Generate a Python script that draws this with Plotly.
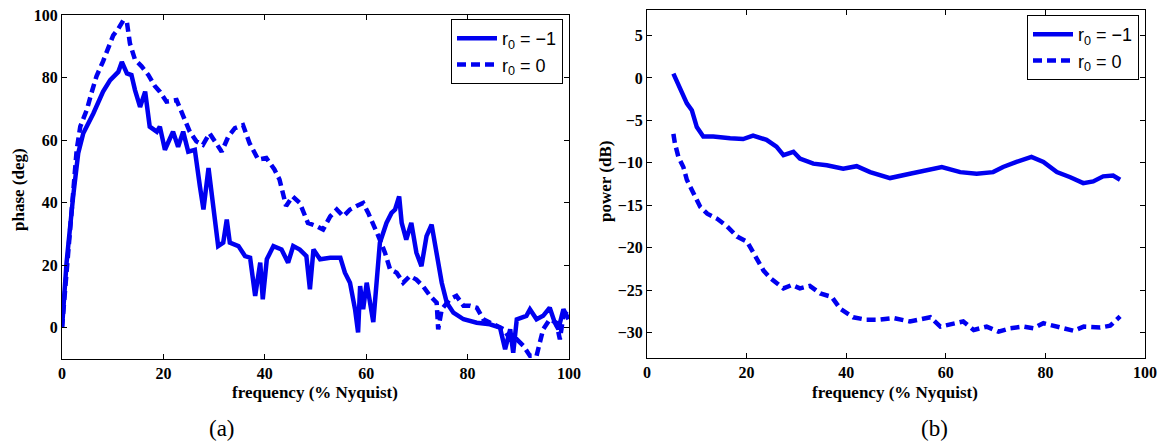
import plotly.graph_objects as go

# ---------------- data ----------------
# (a) phase vs frequency
phase_r1_x = [0, 0.9, 2.2, 3.2, 4.2, 6.2, 8.1, 9.5, 11.1, 11.8, 12.8, 13.7, 14.4, 15.4, 16.4,
              17.3, 18.7, 19.3, 20.3, 21.9, 22.9, 23.9, 24.9, 26.2, 27.2, 27.9, 28.9, 29.8,
              30.8, 31.8, 32.5, 33.1, 34.8, 36.1, 37.1, 38.1, 39.1, 39.6, 40.4, 41.7, 43.3,
              44.6, 45.6, 46.9, 48.2, 48.9, 49.6, 50.9, 52.9, 54.9, 55.8, 56.8, 57.8, 58.4,
              58.8, 59.4, 60.1, 61.4, 62.1, 62.7, 64.0, 65.0, 65.7, 66.5, 67.0, 67.9, 68.9,
              69.9, 70.9, 71.9, 72.9, 73.9, 74.9, 75.9, 77.2, 79.2, 81.8, 84.4, 86.4, 87.4,
              88.4, 89.0, 89.7, 91.6, 92.3, 93.6, 94.9, 96.2, 97.2, 97.9, 98.9, 99.9]
phase_r1_y = [0, 20.8, 42, 55.8, 62.2, 68.6, 75.5, 79.2, 81.8, 85, 81.3, 80.8, 76, 70.6, 75.5,
              64.3, 62.7, 64.3, 56.9, 62.7, 57.9, 62.7, 56.3, 56.9, 45.2, 37.8, 51.1, 37.8,
              26.1, 27.2, 34.6, 27.2, 26.1, 22.9, 22.4, 10.2, 20.8, 9.1, 21.9, 26.1, 25,
              20.8, 26.1, 25, 22.9, 12.3, 25, 21.9, 22.4, 22.4, 17.6, 14.4, 5.9, -1.5,
              13.3, 5.9, 14.4, 1.8, 14.4, 27.2, 33.5, 36.7, 37.8, 42, 33.5, 28.2, 33.5,
              24, 19.7, 29.3, 33, 23, 14.4, 8, 4.8, 2.7, 1.6, 1.1, 0, -6.9,
              -0.5, -8, 2.7, 3.8, 5.9, 2.7, 3.8, 6.4, 1.6, -0.5, 5.9, 2.7]

phase_r0_x = [0, 0.9, 1.9, 2.9, 3.6, 4.9, 5.8, 6.8, 8.1, 9.1, 10.1, 11.1, 12.1, 12.8, 13.4,
              14.4, 15.7, 17.0, 18.3, 19.3, 20.6, 22.6, 23.9, 25.2, 26.5, 27.8, 29.1, 30.5,
              31.5, 32.8, 34.1, 35.7, 37.0, 38.7, 40.3, 41.9, 42.9, 44.2, 45.5, 46.9, 48.5,
              50.2, 51.5, 52.9, 54.2, 55.5, 56.8, 58.1, 59.4, 60.4, 61.4, 62.4, 63.7, 64.7,
              66.0, 67.3, 68.6, 69.9, 71.2, 72.6, 73.9, 74.2, 74.9, 76.5, 77.8, 79.2, 80.5,
              81.8, 83.1, 85.1, 87.1, 88.4, 89.7, 91.0, 92.3, 93.6, 94.9, 96.2, 97.5, 98.2,
              98.9, 99.9]
phase_r0_y = [0, 16.5, 37.8, 56.9, 64.3, 69.7, 75, 80.4, 85.2, 89.8, 93.5, 95.6, 98.3, 97.7, 90.9,
              85.7, 83.6, 80.9, 77.3, 75.5, 72.3, 72.8, 67.5, 62.7, 59.6, 58.5, 62.2, 58.5,
              56.3, 61.1, 63.8, 64.8, 59.0, 53.8, 54.3, 50.6, 47.4, 38.9, 42, 39.9, 33.5,
              32.5, 31.4, 35.6, 37.8, 35.6, 37.8, 38.9, 39.9, 36.7, 32.5, 29.3, 24, 18.7,
              17.6, 14.4, 16.5, 15.4, 13.3, 10.2, 8.0, -0.5, 5.9, 9.1, 10.2, 7.0, 7.0,
              6.4, 2.7, 1.1, -0.5, -3.7, -3.7, -5.8, -9, -9, -0.5, 2.7, 1.6, -3.7,
              3.8, 5.9]

# (b) power vs frequency
power_r1_x = [5.3, 6.6, 8.0, 9.0, 10.0, 11.3, 13.3, 16.7, 19.3, 21.3, 24.0, 26.0, 27.4, 29.4,
              30.7, 33.4, 36.1, 39.4, 42.1, 44.8, 48.8, 52.8, 56.2, 59.2, 62.9, 66.2, 69.5,
              71.5, 74.2, 77.2, 79.6, 82.3, 85.0, 87.6, 89.6, 91.6, 93.6, 95.0]
power_r1_y = [0.5, -1.1, -3.0, -3.8, -5.8, -6.9, -6.9, -7.1, -7.2, -6.8, -7.3, -8.1, -9.1, -8.7,
              -9.5, -10.1, -10.3, -10.7, -10.4, -11.1, -11.8, -11.3, -10.9, -10.5, -11.1, -11.3, -11.1,
              -10.5, -9.9, -9.3, -9.9, -11.1, -11.7, -12.4, -12.2, -11.6, -11.5, -12.0]

power_r0_x = [5.3, 5.6, 6.3, 7.3, 8.0, 9.4, 10.7, 12.1, 14.1, 16.1, 18.1, 20.1, 22.1, 23.4, 24.8,
              26.1, 27.4, 29.1, 30.7, 32.7, 34.8, 37.1, 38.8, 41.4, 44.1, 46.5, 49.5, 52.8,
              56.9, 58.9, 61.6, 63.5, 65.6, 68.2, 70.6, 72.9, 75.6, 77.6, 79.6, 82.3, 85.7,
              87.7, 91.0, 93.0, 94.4, 95.0]
power_r0_y = [-6.6, -7.7, -9.3, -10.5, -12.0, -13.6, -15.2, -16.0, -16.6, -17.5, -18.7, -19.3, -21.5,
              -22.7, -23.6, -24.2, -24.8, -24.4, -24.8, -24.5, -25.4, -25.8, -27.2, -28.2, -28.5,
              -28.5, -28.3, -28.7, -28.2, -29.3, -28.9, -28.7, -29.7, -29.3, -29.9, -29.5, -29.3,
              -29.5, -28.9, -29.3, -29.8, -29.3, -29.4, -29.2, -28.5, -28.1]

legend_labels = ["r<sub>0</sub> = \u22121", "r<sub>0</sub> = 0"]
x_ticks = [0, 20, 40, 60, 80, 100]
phase_ticks = [0, 20, 40, 60, 80, 100]
power_ticks = [-30, -25, -20, -15, -10, -5, 0, 5]

# ---------------- styling ----------------
OFF = 8                      # default page (body) margin of the html page
W, H = 1169 - OFF, 447 - OFF
BLUE = "#0000f0"
LW = 4.5
DASH = "9px,5px"
serif_bold = dict(family="Liberation Serif", size=16, color="black", weight="bold")


def px_x(p):
    return (p - OFF) / W


def px_y(p):
    return 1 - (p - OFF) / H


fig = go.Figure()

fig.add_trace(go.Scatter(x=phase_r1_x, y=phase_r1_y, mode="lines", name=legend_labels[0],
                         line=dict(color=BLUE, width=LW), xaxis="x", yaxis="y", legend="legend"))
fig.add_trace(go.Scatter(x=phase_r0_x, y=phase_r0_y, mode="lines", name=legend_labels[1],
                         line=dict(color=BLUE, width=LW, dash=DASH), xaxis="x", yaxis="y",
                         legend="legend"))
fig.add_trace(go.Scatter(x=power_r1_x, y=power_r1_y, mode="lines", name=legend_labels[0],
                         line=dict(color=BLUE, width=LW), xaxis="x2", yaxis="y2", legend="legend2"))
fig.add_trace(go.Scatter(x=power_r0_x, y=power_r0_y, mode="lines", name=legend_labels[1],
                         line=dict(color=BLUE, width=LW, dash=DASH), xaxis="x2", yaxis="y2",
                         legend="legend2"))

axis_common = dict(showline=True, linecolor="black", linewidth=1, mirror="ticks",
                   ticks="inside", ticklen=5, tickcolor="black", showgrid=False,
                   zeroline=False, tickfont=serif_bold, automargin=False,
                   ticklabeloverflow="allow")

legend_common = dict(bgcolor="white", bordercolor="black", borderwidth=1,
                     font=dict(family="Liberation Sans", size=18, color="black"),
                     xanchor="right", yanchor="top", tracegroupgap=0, itemwidth=40)

fig.update_layout(
    width=W, height=H,
    margin=dict(l=0, r=0, t=0, b=0, autoexpand=False),
    paper_bgcolor="white", plot_bgcolor="white",
    xaxis=dict(domain=[px_x(62), px_x(569)], range=[0, 100], tickvals=x_ticks,
               anchor="y", **axis_common),
    yaxis=dict(domain=[px_y(359), px_y(15)], range=[-10, 100], tickvals=phase_ticks,
               anchor="x", **axis_common),
    xaxis2=dict(domain=[px_x(647), px_x(1145)], range=[0, 100], tickvals=x_ticks,
                anchor="y2", **axis_common),
    yaxis2=dict(domain=[px_y(358), px_y(10)], range=[-33, 8], tickvals=power_ticks,
                anchor="x2", **axis_common),
    legend=dict(x=px_x(563), y=px_y(19), **legend_common),
    legend2=dict(x=px_x(1139), y=px_y(15), **legend_common),
    showlegend=True,
)

ann_font = dict(family="Liberation Serif", size=17, color="black", weight="bold")
annotations = [
    dict(text="phase (deg)", x=px_x(18), y=px_y(190), textangle=-90, font=ann_font),
    dict(text="frequency (% Nyquist)", x=px_x(315), y=px_y(392), font=ann_font),
    dict(text="power (dB)", x=px_x(605), y=px_y(182), textangle=-90, font=ann_font),
    dict(text="frequency (% Nyquist)", x=px_x(895), y=px_y(392), font=ann_font),
    dict(text="(a)", x=px_x(222), y=px_y(428),
         font=dict(family="Liberation Serif", size=23, color="black")),
    dict(text="(b)", x=px_x(934), y=px_y(428),
         font=dict(family="Liberation Serif", size=23, color="black")),
]
for a in annotations:
    a.update(xref="paper", yref="paper", showarrow=False, xanchor="center", yanchor="middle")
fig.update_layout(annotations=annotations)

fig.write_html("out.html")
